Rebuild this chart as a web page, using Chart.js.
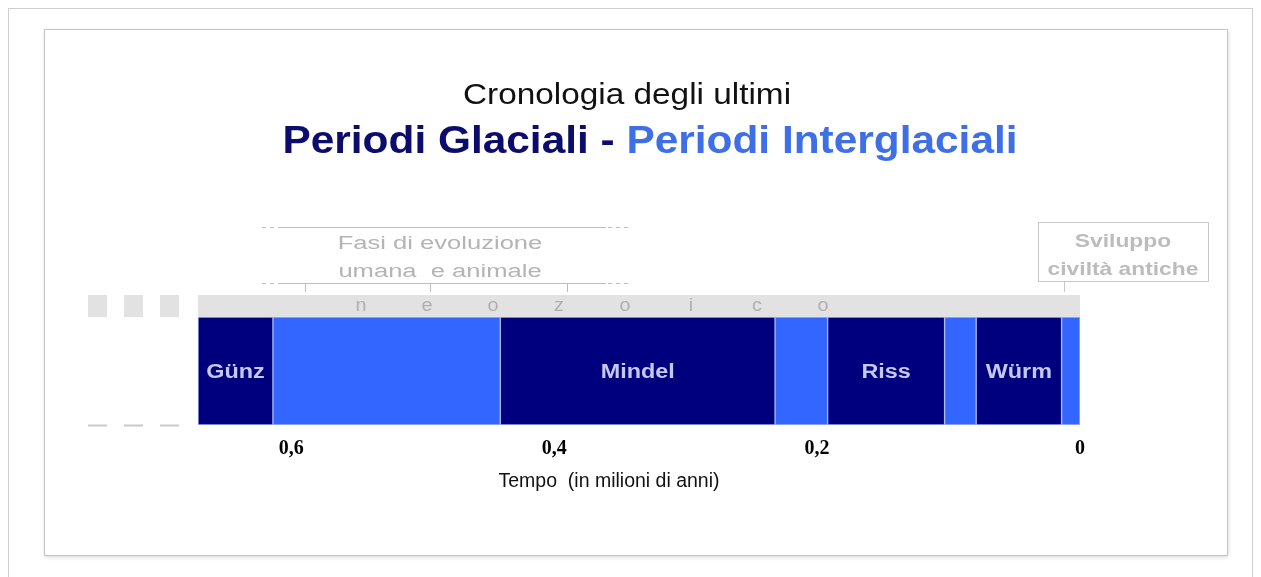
<!DOCTYPE html>
<html>
<head>
<meta charset="utf-8">
<script src="https://cdn.jsdelivr.net/npm/chart.js@4"></script>
<style>
  body { margin: 0; background: #fff; }
  canvas { display: block; }
</style>
</head>
<body>
<canvas id="chart" width="1261" height="577"></canvas>
<script>
// periods, oldest first (millions of years ago)
const periods = ['Günz', '', 'Mindel', '', 'Riss', '', 'Würm', ''];
const glacial = [true, false, true, false, true, false, true, false];
const periodStart = [0.671, 0.614, 0.441, 0.232, 0.192, 0.103, 0.079, 0.014];
const periodEnd = [0.614, 0.441, 0.232, 0.192, 0.103, 0.079, 0.014, 0];
const tickValues = [0.6, 0.4, 0.2, 0];
const tickLabels = ['0,6', '0,4', '0,2', '0'];
const eraLetters = ['n', 'e', 'o', 'z', 'o', 'i', 'c', 'o'];

const GLACIAL = '#00007f';
const INTERGLACIAL = '#3366ff';

function stretchedText(ctx, str, x, y, font, color, sx, align) {
    ctx.save();
    ctx.font = font;
    ctx.fillStyle = color;
    ctx.textAlign = align || 'center';
    ctx.textBaseline = 'alphabetic';
    ctx.translate(x, y);
    ctx.scale(sx, 1);
    ctx.fillText(str, 0, 0);
    ctx.restore();
}

const decor = {
    id: 'decor',
    beforeDraw(chart) {
        const ctx = chart.ctx;
        const area = chart.chartArea;
        ctx.save();
        ctx.fillStyle = '#fff';
        ctx.fillRect(0, 0, chart.width, chart.height);

        // page frames
        ctx.strokeStyle = '#cfcfcf';
        ctx.lineWidth = 1;
        ctx.strokeRect(8.5, 8.5, 1244, 600);
        ctx.shadowColor = 'rgba(0,0,0,0.18)';
        ctx.shadowBlur = 4;
        ctx.shadowOffsetY = 1;
        ctx.fillRect(44.5, 29.5, 1183, 526);
        ctx.shadowColor = 'transparent';
        ctx.strokeStyle = '#c4c4c4';
        ctx.strokeRect(44.5, 29.5, 1183, 526);

        // title
        stretchedText(ctx, 'Cronologia degli ultimi', 627, 104, '29px "Liberation Sans"', '#111', 1.15);
        ctx.font = 'bold 39px "Liberation Sans"';
        const partA = 'Periodi Glaciali - ';
        const partB = 'Periodi Interglaciali';
        const sx = 1.087;
        const wA = ctx.measureText(partA).width * sx;
        const wB = ctx.measureText(partB).width * sx;
        const x0 = 650 - (wA + wB) / 2;
        stretchedText(ctx, partA, x0, 153, 'bold 39px "Liberation Sans"', '#0c0c6c', sx, 'left');
        stretchedText(ctx, partB, x0 + wA, 153, 'bold 39px "Liberation Sans"', '#3f6fe6', sx, 'left');

        // era band above the bars
        ctx.fillStyle = '#e2e2e2';
        ctx.fillRect(area.left, area.top - 22, area.right - area.left, 22);
        [88, 124, 160].forEach(x => {
            ctx.fillRect(x, area.top - 22, 19, 22);
        });
        ctx.strokeStyle = '#c9c9c9';
        ctx.lineWidth = 2;
        [88, 124, 160].forEach(x => {
            ctx.beginPath();
            ctx.moveTo(x, area.bottom + 0.5);
            ctx.lineTo(x + 19, area.bottom + 0.5);
            ctx.stroke();
        });
        eraLetters.forEach((ch, i) => {
            stretchedText(ctx, ch, area.left + 163 + i * 66, 311, '18px "Liberation Sans"', '#b0b0b0', 1.1);
        });

        // "Fasi di evoluzione" bracket
        ctx.strokeStyle = '#bdbdbd';
        ctx.lineWidth = 1;
        [227.5, 283.5].forEach(y => {
            ctx.setLineDash([4, 4]);
            ctx.beginPath();
            ctx.moveTo(262, y); ctx.lineTo(282, y);
            ctx.moveTo(608, y); ctx.lineTo(632, y);
            ctx.stroke();
            ctx.setLineDash([]);
            ctx.beginPath();
            ctx.moveTo(282, y); ctx.lineTo(606, y);
            ctx.stroke();
        });
        [305.5, 430.5, 567.5].forEach(x => {
            ctx.beginPath();
            ctx.moveTo(x, 283); ctx.lineTo(x, 292);
            ctx.stroke();
        });
        stretchedText(ctx, 'Fasi di evoluzione', 440, 249, '18px "Liberation Sans"', '#b4b4b4', 1.42);
        stretchedText(ctx, 'umana  e animale', 440, 277, '18px "Liberation Sans"', '#b4b4b4', 1.42);

        // "Sviluppo civiltà antiche" box
        ctx.strokeStyle = '#c8c8c8';
        ctx.strokeRect(1038.5, 222.5, 170, 59);
        ctx.beginPath();
        ctx.moveTo(1064.5, 282); ctx.lineTo(1064.5, 292);
        ctx.stroke();
        stretchedText(ctx, 'Sviluppo', 1123, 247, 'bold 19px "Liberation Sans"', '#bcbcbc', 1.2);
        stretchedText(ctx, 'civiltà antiche', 1123, 275, 'bold 19px "Liberation Sans"', '#bcbcbc', 1.2);
        ctx.restore();
    },
    afterDatasetsDraw(chart) {
        const ctx = chart.ctx;
        periods.forEach((name, i) => {
            if (!name) return;
            const bar = chart.getDatasetMeta(i).data[0];
            const cx = (bar.x + bar.base) / 2;
            stretchedText(ctx, name, cx, bar.y + 7, 'bold 20px "Liberation Sans"', '#c5c8f2', 1.17);
        });
        stretchedText(ctx, 'Tempo  (in milioni di anni)', 609, 487, '19.5px "Liberation Sans"', '#111', 1);
    }
};

const datasets = periods.map((name, i) => ({
    label: name || 'Interglaciale',
    data: [[periodStart[i], periodEnd[i]]],
    backgroundColor: glacial[i] ? GLACIAL : INTERGLACIAL,
    borderColor: '#a9b6ee',
    borderWidth: 1,
    borderSkipped: false,
    grouped: false,
    barPercentage: 1,
    categoryPercentage: 1
}));

new Chart(document.getElementById('chart'), {
    type: 'bar',
    data: { labels: [''], datasets: datasets },
    options: {
        indexAxis: 'y',
        responsive: false,
        animation: false,
        layout: { padding: { left: 198, right: 181, top: 317, bottom: 92 } },
        scales: {
            x: {
                type: 'linear',
                min: 0,
                max: periodStart[0],
                reverse: true,
                grid: { display: false, drawTicks: false },
                border: { display: false },
                afterBuildTicks: scale => {
                    scale.ticks = tickValues.map(v => ({ value: v }));
                },
                afterFit: scale => { scale.height = 60; },
                ticks: {
                    padding: 12,
                    color: '#000',
                    autoSkip: false,
                    maxRotation: 0,
                    font: { family: 'Liberation Serif', size: 20, weight: 'bold' },
                    callback: (value) => tickLabels[tickValues.indexOf(value)]
                }
            },
            y: { display: false }
        },
        plugins: {
            legend: { display: false },
            tooltip: { enabled: false }
        }
    },
    plugins: [decor]
});
</script>
</body>
</html>
